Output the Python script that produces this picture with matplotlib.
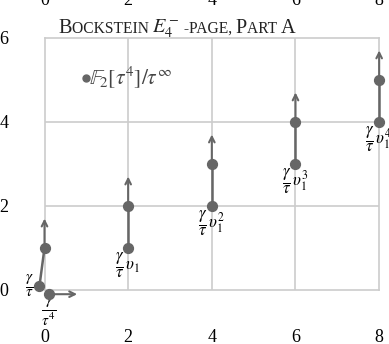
import matplotlib.pyplot as plt
from matplotlib.offsetbox import TextArea, HPacker, AnchoredOffsetbox

plt.rcParams['font.family'] = ['Liberation Serif', 'DejaVu Serif']
plt.rcParams['mathtext.fontset'] = 'stix'

# classes: (x, y) with drawn offset
classes_x = [-0.12, 0.1, 0, 2, 2, 4, 4, 6, 6, 8, 8]
classes_y = [0.1, -0.1, 1, 1, 2, 2, 3, 3, 4, 4, 5]
# vertical tower segments (x0, y0, x1, y1)
seg_x0 = [-0.12, 2, 4, 6, 8]
seg_y0 = [0.1, 1, 2, 3, 4]
seg_x1 = [0, 2, 4, 6, 8]
seg_y1 = [1, 2, 3, 4, 5]
# arrows (start, direction)
arr_x = [0, 2, 4, 6, 8, 0.1]
arr_y = [1, 2, 3, 4, 5, -0.1]
arr_dx = [0, 0, 0, 0, 0, 0.68]
arr_dy = [0.7, 0.7, 0.7, 0.7, 0.7, 0]
# labels
lab_x = [-0.12, 0.1, 2, 4, 6, 8]
lab_y = [0.1, -0.1, 1, 2, 3, 4]
lab_txt = [r'$\dfrac{\gamma}{\tau}$', r'$\dfrac{\gamma}{\tau^4}$',
           r'$\dfrac{\gamma}{\tau}\,\upsilon_1$', r'$\dfrac{\gamma}{\tau}\,\upsilon_1^2$',
           r'$\dfrac{\gamma}{\tau}\,\upsilon_1^3$', r'$\dfrac{\gamma}{\tau}\,\upsilon_1^4$']
xticks = [0, 2, 4, 6, 8]
yticks = [0, 2, 4, 6]

col = '#666666'
grid = '#cccccc'

fig = plt.figure(figsize=(3.89, 3.44), dpi=100)
ax = fig.add_axes([0.1144, 0.157, 0.8603, 0.733])
ax.set_xlim(0, 8)
ax.set_ylim(0, 6)
for s in ax.spines.values():
    s.set_color(grid)
    s.set_linewidth(1.2)
for v in [2, 4, 6]:
    ax.axvline(v, color=grid, lw=1.2, zorder=0)
for v in [2, 4]:
    ax.axhline(v, color=grid, lw=1.2, zorder=0)

ax.set_xticks(xticks)
ax.set_yticks(yticks)
ax.tick_params(length=0, labelsize=13)
ax.tick_params(axis='y', pad=26)
ax.tick_params(axis='x', pad=28)
top = ax.secondary_xaxis('top')
top.set_xticks(xticks)
top.tick_params(length=0, labelsize=13, pad=21)
top.spines['top'].set_visible(False)

for i in range(len(seg_x0)):
    ax.plot([seg_x0[i], seg_x1[i]], [seg_y0[i], seg_y1[i]], color=col, lw=1.8,
            clip_on=False, zorder=3)
for i in range(len(arr_x)):
    ax.annotate('', xy=(arr_x[i] + arr_dx[i], arr_y[i] + arr_dy[i]),
                xytext=(arr_x[i], arr_y[i]),
                arrowprops=dict(arrowstyle='->', color=col, lw=1.5,
                                shrinkA=0, shrinkB=0),
                annotation_clip=False, zorder=3)
ax.scatter(classes_x, classes_y, s=50, color=col, zorder=4, clip_on=False)

# labels
ax.annotate(lab_txt[0], (lab_x[0], lab_y[0]), xytext=(-4, 0), textcoords='offset points',
            ha='right', va='center', fontsize=11, annotation_clip=False)
ax.annotate(lab_txt[1], (lab_x[1], lab_y[1]), xytext=(0, -2), textcoords='offset points',
            ha='center', va='top', fontsize=11, annotation_clip=False)
for i in range(2, len(lab_x)):
    ax.annotate(lab_txt[i], (lab_x[i], lab_y[i]), xytext=(0, -2), textcoords='offset points',
                ha='center', va='top', fontsize=12, annotation_clip=False)

# key
ax.scatter([1], [5.05], s=25, color=col, zorder=4)
ax.text(1.06, 5.05, r'$\mathbb{F}_2[\tau^4]/\tau^\infty$', fontsize=15.5, color='#444444',
        va='center', ha='left')

# small caps title
parts = [('B', 14.6), ('OCKSTEIN ', 11.2), (r'$E_4^-$', 14.6), (' -PAGE, ', 11.2),
         ('P', 14.6), ('ART ', 11.2), ('A', 14.6)]
boxes = [TextArea(t, textprops=dict(fontsize=fs, color='#222222')) for t, fs in parts]
pack = HPacker(children=boxes, align='baseline', pad=0, sep=0)
ab = AnchoredOffsetbox(loc='lower left', child=pack, frameon=False, pad=0,
                       bbox_to_anchor=(58 / 389, 1 - 40 / 344),
                       bbox_transform=fig.transFigure, borderpad=0)
fig.add_artist(ab)

fig.savefig('out.png', dpi=100)
